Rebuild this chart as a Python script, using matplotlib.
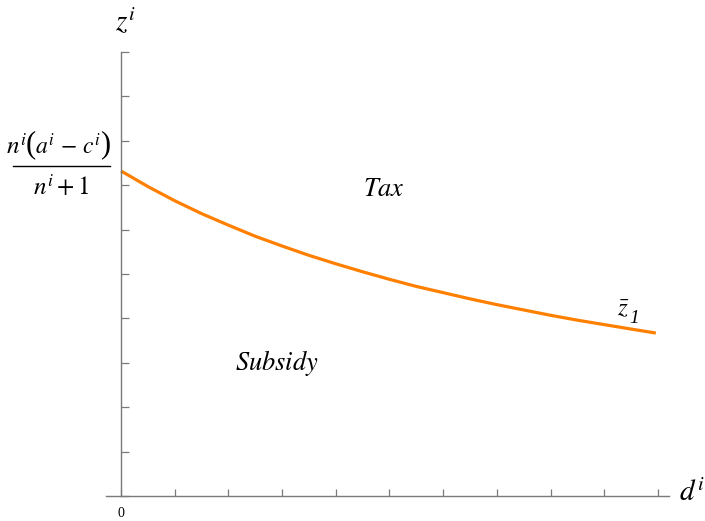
import matplotlib
matplotlib.use("Agg")
import matplotlib.pyplot as plt
from matplotlib.lines import Line2D

plt.rcParams["mathtext.fontset"] = "stix"
plt.rcParams["font.family"] = ["Liberation Serif", "DejaVu Serif"]

# Threshold curve z1(d), sampled every half tick along the d axis
d_vals = [0, 0.5, 1, 1.5, 2, 2.5, 3, 3.5, 4, 4.5, 5, 5.5, 6, 6.5, 7, 7.5,
          8, 8.5, 9, 9.5, 9.96]
z_vals = [7.32, 6.97, 6.65, 6.36, 6.10, 5.85, 5.63, 5.42, 5.23, 5.05, 4.88,
          4.72, 4.58, 4.44, 4.31, 4.19, 4.07, 3.96, 3.86, 3.76, 3.67]
x_ticks = list(range(0, 11))
y_ticks = list(range(0, 11))

W, H = 705, 521
fig = plt.figure(figsize=(W / 100, H / 100), dpi=100)
ax = fig.add_axes([106 / W, 25 / H, 562.7 / W, 444 / H])
ax.set_xlim(-0.28, 10.2)
ax.set_ylim(0, 10)

axis_col = "#7a7a7a"
for s in ("top", "right"):
    ax.spines[s].set_visible(False)
ax.spines["left"].set_position(("data", 0))
ax.spines["bottom"].set_position(("data", 0))
for s in ("left", "bottom"):
    ax.spines[s].set_color(axis_col)
    ax.spines[s].set_linewidth(1.0)

ax.set_xticks(x_ticks)
ax.set_yticks(y_ticks)
ax.tick_params(axis="x", direction="in", length=5, width=0.9, color=axis_col,
               labelbottom=False)
ax.tick_params(axis="y", direction="in", length=6, width=0.9, color=axis_col,
               labelleft=False)

ax.plot(d_vals, z_vals, color="#FF8000", lw=2.3, clip_on=False,
        solid_capstyle="butt")

# axis labels
ax.text(0, -0.25, "0", ha="center", va="top", fontsize=10)
fig.text(125 / W, 1 - 22 / H, r"$z^{i}$", ha="center", va="center", fontsize=21)
fig.text(692 / W, 1 - 493 / H, r"$d^{i}$", ha="center", va="center", fontsize=21)


def px(x, y):
    return x / W, 1 - y / H


# intercept label written as a stacked fraction
num_y = 146
fig.text(*px(27, num_y), r"$n^{i}$", ha="right", va="center", fontsize=18)
fig.text(*px(31, num_y - 1), "(", ha="center", va="center", fontsize=22)
fig.text(*px(68, num_y), r"$a^{i}\,-\,c^{i}$", ha="center", va="center",
         fontsize=17)
fig.text(*px(105.5, num_y - 1), ")", ha="center", va="center", fontsize=22)
fig.add_artist(Line2D([13 / W, 110 / W], [1 - 166 / H, 1 - 166 / H],
                      transform=fig.transFigure, color="black", lw=1.0))
fig.text(*px(61, 187), r"$n^{i}+1$", ha="center", va="center", fontsize=18)

# region labels
ax.text(4.9, 6.9, r"$Tax$", ha="center", va="center", fontsize=19)
ax.text(2.9, 3.0, r"$Subsidy$", ha="center", va="center", fontsize=19)
ax.text(9.35, 4.2, r"$\bar{z}$", ha="center", va="center", fontsize=18)
ax.text(9.56, 4.0, "1", ha="center", va="center", fontsize=14,
        fontstyle="italic")

fig.savefig("out.png", dpi=100)
